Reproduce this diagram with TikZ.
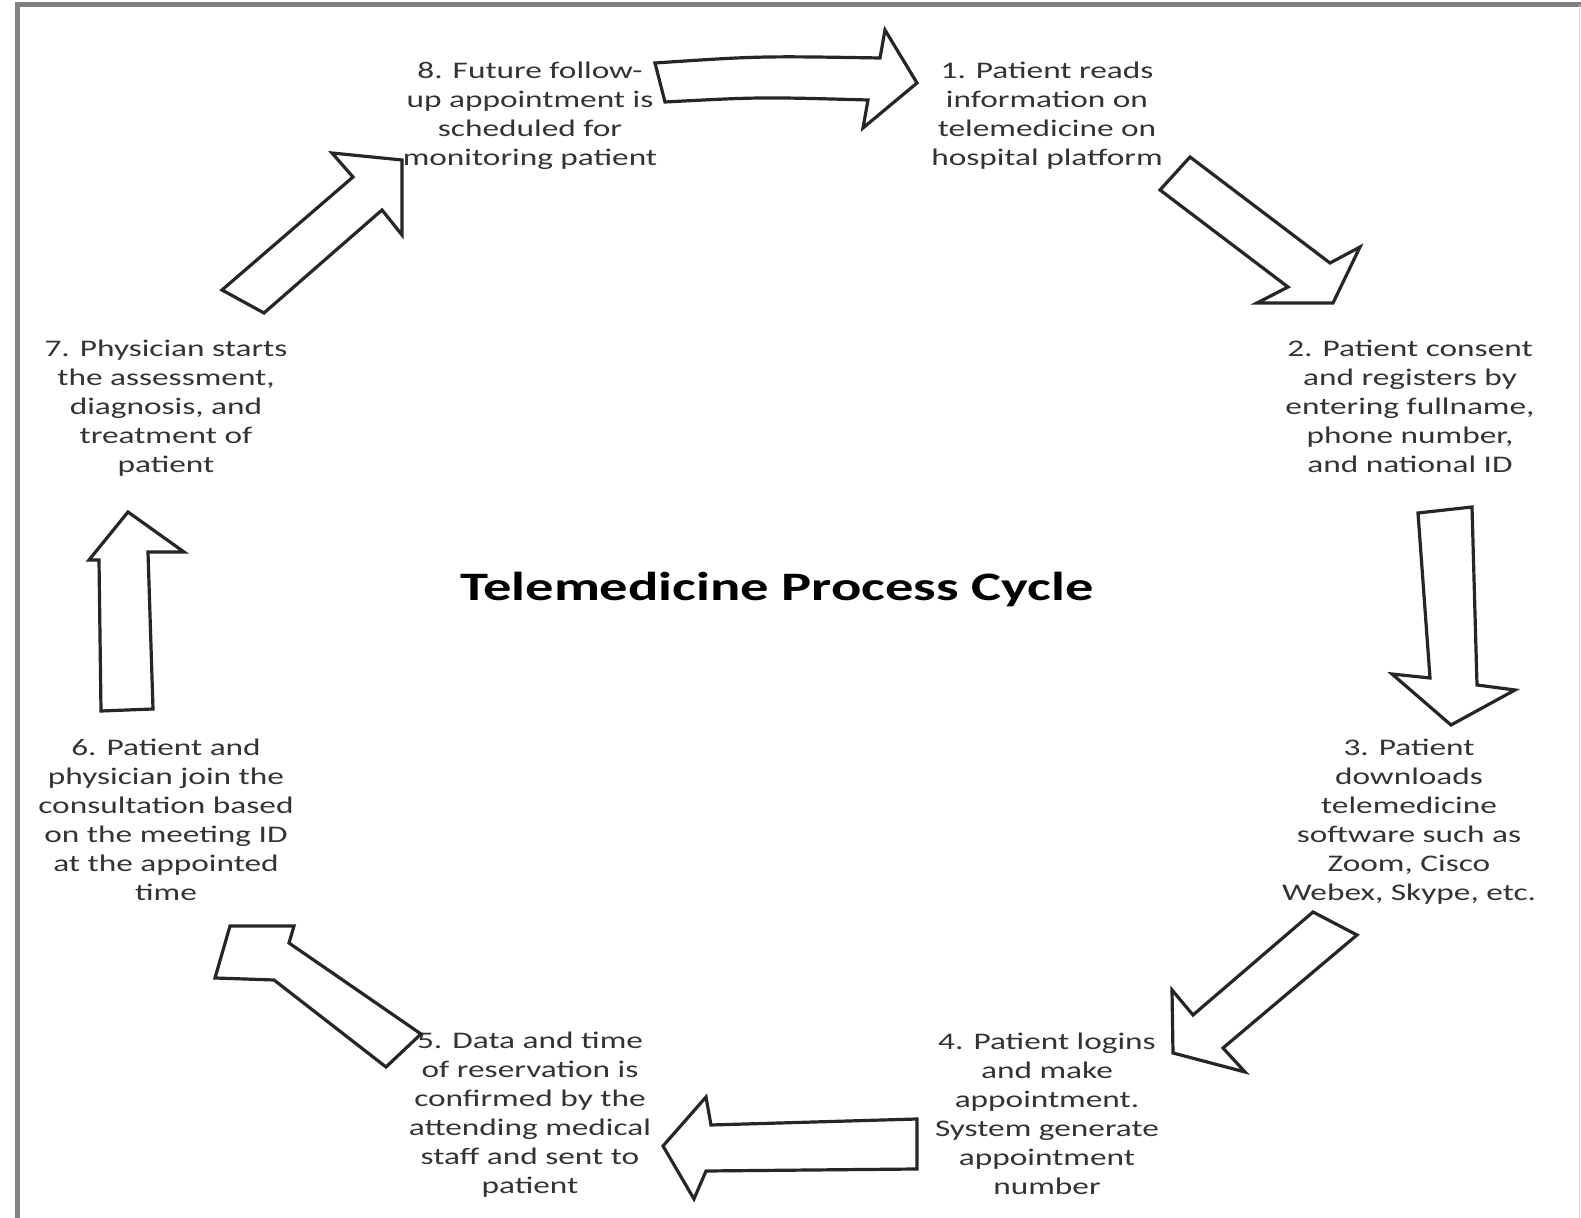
\documentclass[tikz,border=0pt]{standalone}
\usepackage{fontspec}
\setmainfont{Carlito}[FakeStretch=1.40]
\usepackage{tikz}

\tikzset{
  stage/.style={align=center, text=black!80, inner sep=0pt,
    font=\fontsize{11.9}{14.5}\selectfont},
  blockarrow/.style={draw=black!85, fill=white, line width=1.6pt, line join=miter}
}

\begin{document}
\begin{tikzpicture}[x=0.5pt, y=-0.5pt]
   \useasboundingbox (0,0) rectangle (1581,1218);
   \draw[gray, line width=2.5pt] (17,1218) -- (17,5) -- (1581,5);
   \draw[black!15, line width=0.6pt] (1579.5,5) -- (1579.5,1218);

   \node(T)[font=\bfseries\fontsize{20.2}{24}\selectfont] at (777,590) {Telemedicine Process Cycle};

   \node(S8)[stage] at (530,116) {8. Future follow-\\up appointment is\\scheduled for\\monitoring patient};
   \node(S1)[stage] at (1047,116) {1. Patient reads\\information on\\telemedicine on\\hospital platform};
   \node(S2)[stage] at (1410,406) {2. Patient consent\\and registers by\\entering fullname,\\phone number,\\and national ID};
   \node(S3)[stage] at (1409,822) {3. Patient\\downloads\\telemedicine\\software such as\\Zoom, Cisco\\Webex, Skype, etc.};
   \node(S4)[stage] at (1047,1114) {4. Patient logins\\and make\\appointment.\\System generate\\appointment\\number};
   \node(S5)[stage] at (530,1115) {5. Data and time\\of reservation is\\confirmed by the\\attending medical\\staff and sent to\\patient};
   \node(S6)[stage] at (166,820) {6. Patient and\\physician join the\\consultation based\\on the meeting ID\\at the appointed\\time};
   \node(S7)[stage] at (166,408) {7. Physician starts\\the assessment,\\diagnosis, and\\treatment of\\patient};

   % 8 -> 1
   \draw[blockarrow] (655,63) .. controls (760,56) .. (880,58) -- (885,30) -- (917,83)
     -- (863,128) -- (868,100) .. controls (760,97) .. (665,102) -- cycle;
   % 1 -> 2
   \draw[blockarrow] (1190,157) -- (1330,263) -- (1360,247) -- (1333,303)
     -- (1257,303) -- (1288,287) -- (1160,190) -- cycle;
   % 2 -> 3
   \draw[blockarrow] (1418,513) -- (1472,507) -- (1477,685) -- (1515,690)
     -- (1451,725) -- (1392,674) -- (1430,678) -- cycle;
   % 3 -> 4
   \draw[blockarrow] (1313,912) -- (1357,935) -- (1223,1048) -- (1245,1072)
     -- (1173,1053) -- (1172,990) -- (1193,1015) -- cycle;
   % 4 -> 5
   \draw[blockarrow] (917,1119) -- (711,1125) -- (706,1097) -- (663,1146)
     -- (694,1199) -- (706,1171) -- (917,1169) -- cycle;
   % 5 -> 6
   \draw[blockarrow] (421,1034) -- (289,943) -- (294,926) -- (230,926)
     -- (215,978) -- (274,980) -- (386,1067) -- cycle;
   % 6 -> 7
   \draw[blockarrow] (101,711) -- (99,560) -- (89,560) -- (128,512)
     -- (184,552) -- (148,552) -- (153,709) -- cycle;
   % 7 -> 8
   \draw[blockarrow] (222,290) -- (353,177) -- (332,153) -- (402,160)
     -- (402,235) -- (382,210) -- (264,313) -- cycle;
\end{tikzpicture}
\end{document}
